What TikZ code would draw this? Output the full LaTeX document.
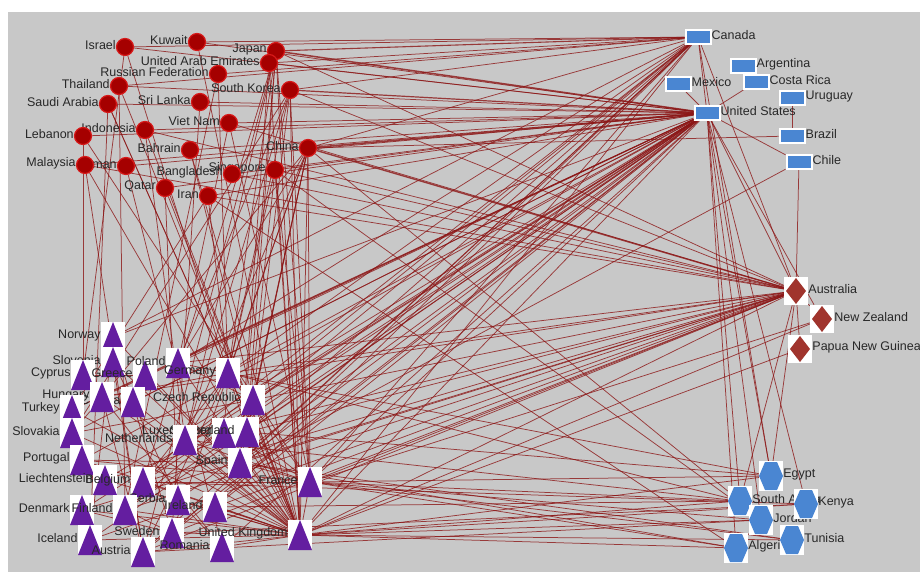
\documentclass[tikz,border=0pt]{standalone}
\usepackage{fontspec}
\setmainfont{Liberation Sans}
\usetikzlibrary{backgrounds}

\definecolor{panel}{RGB}{200,200,200}
\definecolor{tiered}{RGB}{140,22,22}
\definecolor{asiafill}{RGB}{165,0,0}
\definecolor{asiarim}{RGB}{215,25,25}
\definecolor{bluefill}{RGB}{74,134,210}
\definecolor{oceafill}{RGB}{160,52,45}
\definecolor{eurofill}{RGB}{100,30,160}
\definecolor{labelgray}{RGB}{40,40,40}

\tikzset{
  lbl/.style={font=\fontsize{12.5}{14}\selectfont, text=labelgray, inner sep=0pt, yshift=2pt},
  asia/.style={circle, fill=asiafill, draw=asiarim, line width=1.2pt,
    minimum size=17pt, inner sep=0pt, label distance=-4pt},
  amer/.style={rectangle, fill=bluefill, draw=white, line width=2pt,
    minimum width=25pt, minimum height=14pt, inner sep=0pt, label distance=4pt},
  ocea/.style={rectangle, fill=white, minimum width=24pt, minimum height=28pt,
    inner sep=0pt, label distance=4pt,
    path picture={\fill[oceafill] ([yshift=-1pt]path picture bounding box.north)
      -- ([xshift=-2pt]path picture bounding box.east)
      -- ([yshift=1pt]path picture bounding box.south)
      -- ([xshift=2pt]path picture bounding box.west) -- cycle;}},
  euro/.style={rectangle, fill=white, minimum width=24pt, minimum height=30pt,
    inner sep=0pt, label distance=1pt,
    path picture={\fill[eurofill] (path picture bounding box.south west)
      -- (path picture bounding box.south east)
      -- (path picture bounding box.north) -- cycle;}},
  afri/.style={rectangle, fill=white, minimum width=24pt, minimum height=30pt,
    inner sep=0pt, label distance=3pt,
    path picture={\fill[bluefill]
      ([xshift=-12pt]path picture bounding box.center)
      -- ([shift={(-6pt,14pt)}]path picture bounding box.center)
      -- ([shift={(6pt,14pt)}]path picture bounding box.center)
      -- ([xshift=12pt]path picture bounding box.center)
      -- ([shift={(6pt,-14pt)}]path picture bounding box.center)
      -- ([shift={(-6pt,-14pt)}]path picture bounding box.center) -- cycle;}},
  conn/.style={draw=tiered, draw opacity=.8, line width=.75pt}
}

\begin{document}
\begin{tikzpicture}[x=1pt, y=-1pt]
  \useasboundingbox (0,0) rectangle (920,572);
  % asia
  \path
    (125,47) node[asia, label={[lbl]left:Israel}] (isr){}
    (197,42) node[asia, label={[lbl]left:Kuwait}] (kuw){}
    (276,51) node[asia, label={[lbl]left:Japan}] (jpn){}
    (269,63) node[asia, label={[lbl]left:United Arab Emirates}] (uae){}
    (218,74) node[asia, label={[lbl]left:Russian Federation}] (rus){}
    (119,86) node[asia, label={[lbl]left:Thailand}] (tha){}
    (290,90) node[asia, label={[lbl]left:South Korea}] (kor){}
    (108,104) node[asia, label={[lbl]left:Saudi Arabia}] (sau){}
    (200,102) node[asia, label={[lbl]left:Sri Lanka}] (lka){}
    (229,123) node[asia, label={[lbl]left:Viet Nam}] (vnm){}
    (145,130) node[asia, label={[lbl]left:Indonesia}] (idn){}
    (83,136) node[asia, label={[lbl]left:Lebanon}] (lbn){}
    (190,150) node[asia, label={[lbl]left:Bahrain}] (bhr){}
    (308,148) node[asia, label={[lbl]left:China}] (chn){}
    (126,166) node[asia, label={[lbl]left:Oman}] (omn){}
    (85,165) node[asia, label={[lbl]left:Malaysia}] (mys){}
    (275,170) node[asia, label={[lbl]left:Singapore}] (sgp){}
    (232,174) node[asia, label={[lbl]left:Bangladesh}] (bgd){}
    (165,188) node[asia, label={[lbl]left:Qatar}] (qat){}
    (208,196) node[asia, label={[lbl]left:Iran}] (irn){};
  % americas
  \path
    (698,37) node[amer, label={[lbl]right:Canada}] (can){}
    (743,66) node[amer, label={[lbl]right:Argentina}] (arg){}
    (678,84) node[amer, label={[lbl]right:Mexico}] (mex){}
    (756,82) node[amer, label={[lbl]right:Costa Rica}] (cri){}
    (707,113) node[amer, label={[lbl]right:United States}] (usa){}
    (792,98) node[amer, label={[lbl]right:Uruguay}] (ury){}
    (792,136) node[amer, label={[lbl]right:Brazil}] (bra){}
    (799,162) node[amer, label={[lbl]right:Chile}] (chl){};
  % oceania
  \path
    (796,291) node[ocea, label={[lbl]right:Australia}] (aus){}
    (822,319) node[ocea, label={[lbl]right:New Zealand}] (nzl){}
    (800,349) node[ocea, label={[lbl]right:Papua New Guinea}] (png){};
  % africa and middle east
  \path
    (740,501) node[afri, label={[lbl]right:South Africa}] (zaf){}
    (761,520) node[afri, label={[lbl]right:Jordan}] (jor){}
    (736,548) node[afri, label={[lbl]right:Algeria}] (dza){}
    (771,476) node[afri, label={[lbl]right:Egypt}] (egy){}
    (806,504) node[afri, label={[lbl]right:Kenya}] (ken){}
    (792,540) node[afri, label={[lbl]right:Tunisia}] (tun){};
  % europe
  \path
    (113,337) node[euro, label={[lbl]left:Norway}] (nor){}
    (113,362) node[euro, label={[lbl]left:Slovenia}] (svn){}
    (83,375) node[euro, label={[lbl]left:Cyprus}] (cyp){}
    (145,375) node[euro, label={[lbl]left:Greece}] (grc){}
    (178,363) node[euro, label={[lbl]left:Poland}] (pol){}
    (228,373) node[euro, label={[lbl]left:Germany}] (deu){}
    (133,402) node[euro, label={[lbl]left:Croatia}] (hrv){}
    (102,397) node[euro, label={[lbl]left:Hungary}] (hun){}
    (253,400) node[euro, label={[lbl]left:Czech Republic}] (cze){}
    (72,410) node[euro, label={[lbl]left:Turkey}] (tur){}
    (72,433) node[euro, label={[lbl]left:Slovakia}] (svk){}
    (224,433) node[euro, label={[lbl]left:Luxembourg}] (lux){}
    (247,432) node[euro, label={[lbl]left:Switzerland}] (che){}
    (185,440) node[euro, label={[lbl]left:Netherlands}] (nld){}
    (82,460) node[euro, label={[lbl]left:Portugal}] (prt){}
    (240,463) node[euro, label={[lbl]left:Spain}] (esp){}
    (310,482) node[euro, label={[lbl]left:France}] (fra){}
    (105,480) node[euro, label={[lbl]left:Liechtenstein}] (lie){}
    (143,482) node[euro, label={[lbl]left:Belgium}] (bel){}
    (178,500) node[euro, label={[lbl]left:Serbia}] (srb){}
    (215,507) node[euro, label={[lbl]left:Ireland}] (irl){}
    (82,510) node[euro, label={[lbl]left:Denmark}] (dnk){}
    (125,510) node[euro, label={[lbl]left:Finland}] (fin){}
    (172,533) node[euro, label={[lbl]left:Sweden}] (swe){}
    (90,540) node[euro, label={[lbl]left:Iceland}] (isl){}
    (143,552) node[euro, label={[lbl]left:Austria}] (aut){}
    (222,547) node[euro, label={[lbl]left:Romania}] (rou){}
    (300,535) node[euro, label={[lbl]left:United Kingdom}] (gbr){};

  \begin{scope}[on background layer]
    \fill[panel] (8,12) rectangle (920,572);
    \begin{scope}[conn]
    % north america and asia
    \draw (can) to (isr); \draw (can) to (kuw); \draw (can) to (uae); \draw (can) to (kor);
    \draw (can) to (chn); \draw (can) to (tha); \draw (can) to (rus); \draw[line width=1.1pt] (can) to (jpn);
    \draw[line width=1.5pt] (usa) to (jpn); \draw[line width=1.2pt] (usa) to (kor); \draw[line width=1.6pt] (usa) to (chn);
    \draw (usa) to (isr); \draw (usa) to (kuw); \draw (usa) to (uae); \draw (usa) to (tha);
    \draw (usa) to (sau); \draw (usa) to (lka); \draw (usa) to (vnm); \draw (usa) to (idn);
    \draw (usa) to (lbn); \draw (usa) to (bhr); \draw (usa) to (mys); \draw (usa) to (sgp);
    \draw (usa) to (bgd); \draw (usa) to (irn); \draw (usa) to (qat); \draw (usa) to (omn);
    \draw (bra) to (chn);
    % oceania and asia
    \draw[line width=1.4pt] (aus) to (chn); \draw (aus) to (jpn); \draw (aus) to (kor); \draw (aus) to (sgp);
    \draw (aus) to (vnm); \draw (aus) to (irn); \draw (aus) to (mys); \draw (aus) to (idn);
    \draw (aus) to (bgd);
    % north america and europe
    \draw (usa) to (gbr); \draw (usa) to (fra); \draw (usa) to (deu); \draw (usa) to (nld);
    \draw (usa) to (che); \draw (usa) to (cze); \draw (usa) to (bel); \draw (usa) to (irl);
    \draw (usa) to (swe); \draw (usa) to (aut); \draw (usa) to (rou); \draw (usa) to (pol);
    \draw (usa) to (nor); \draw (usa) to (esp); \draw (usa) to (fin); \draw (usa) to (dnk);
    \draw (usa) to (lux); \draw (usa) to (hun); \draw (usa) to (grc); \draw (usa) to (tur);
    \draw (usa) to (prt); \draw (usa) to (isl); \draw (usa) to (srb); \draw (usa) to (svk);
    \draw (usa) to (hrv); \draw (usa) to (lie);
    \draw (can) to (gbr); \draw (can) to (fra); \draw (can) to (deu); \draw (can) to (nld);
    \draw (can) to (che); \draw (can) to (irl); \draw (can) to (bel); \draw (can) to (swe);
    \draw (can) to (esp); \draw (can) to (pol); \draw (can) to (nor); \draw (can) to (fin);
    \draw (can) to (aut);
    % oceania and europe
    \draw (aus) to (gbr); \draw (aus) to (fra); \draw (aus) to (deu); \draw (aus) to (nld);
    \draw (aus) to (che); \draw (aus) to (irl); \draw (aus) to (swe); \draw (aus) to (esp);
    \draw (aus) to (cze); \draw (aus) to (bel); \draw (aus) to (aut); \draw (aus) to (pol);
    \draw (aus) to (fin); \draw (aus) to (dnk); \draw (aus) to (hun); \draw (aus) to (isl);
    \draw (nzl) to (gbr); \draw (nzl) to (fra); \draw (png) to (gbr);
    % asia and europe
    \draw (gbr) to (jpn); \draw (gbr) to (chn); \draw (gbr) to (kor); \draw (gbr) to (sgp);
    \draw (gbr) to (sau); \draw (gbr) to (mys); \draw (gbr) to (uae); \draw (gbr) to (kuw);
    \draw (gbr) to (qat); \draw (gbr) to (idn); \draw (gbr) to (tha); \draw (gbr) to (bhr);
    \draw (fra) to (chn); \draw (fra) to (jpn); \draw (fra) to (kor); \draw (fra) to (sgp);
    \draw (fra) to (vnm); \draw (fra) to (lbn);
    \draw (deu) to (jpn); \draw (deu) to (chn); \draw (deu) to (kor); \draw (deu) to (sgp);
    \draw (deu) to (isr); \draw (deu) to (rus); \draw (deu) to (sau); \draw (deu) to (irn);
    \draw (nld) to (jpn); \draw (nld) to (chn); \draw (nld) to (idn); \draw (nld) to (kor);
    \draw (che) to (jpn); \draw (che) to (chn); \draw (che) to (sgp);
    \draw (esp) to (jpn); \draw (esp) to (chn); \draw (esp) to (uae);
    \draw (cze) to (kor); \draw (cze) to (chn); \draw (cze) to (bhr);
    \draw (pol) to (chn); \draw (pol) to (vnm); \draw (pol) to (kor);
    \draw (swe) to (chn); \draw (swe) to (lka); \draw (aut) to (mys); \draw (aut) to (jpn);
    \draw (svk) to (kor); \draw (hun) to (chn); \draw (fin) to (tha); \draw (fin) to (rus);
    \draw (cyp) to (lbn); \draw (cyp) to (isr); \draw (tur) to (irn); \draw (rou) to (omn);
    \draw (srb) to (qat); \draw (bel) to (jpn); \draw (isl) to (sau);
    % africa
    \draw (gbr) to (egy); \draw (gbr) to (zaf); \draw (gbr) to (ken); \draw (gbr) to (jor);
    \draw (gbr) to (dza); \draw (gbr) to (tun);
    \draw (fra) to (dza); \draw (fra) to (tun); \draw (fra) to (egy); \draw (fra) to (zaf);
    \draw (fra) to (jor);
    \draw (deu) to (egy); \draw (deu) to (zaf); \draw (esp) to (dza); \draw (esp) to (tun);
    \draw (nld) to (zaf); \draw (che) to (egy); \draw (bel) to (ken); \draw (swe) to (ken);
    \draw (aut) to (jor); \draw (irl) to (zaf);
    \draw (usa) to (egy); \draw (usa) to (zaf); \draw (usa) to (ken); \draw (usa) to (jor);
    \draw (usa) to (dza); \draw (can) to (egy); \draw (aus) to (zaf); \draw (aus) to (egy);
    \draw (chn) to (zaf); \draw (sgp) to (jor); \draw (irn) to (dza);
    % americas and oceania
    \draw (can) to (usa); \draw (mex) to (usa); \draw (cri) to (usa); \draw (usa) to (chl);
    \draw (bra) to (ury); \draw (aus) to (nzl); \draw (aus) to (png); \draw (can) to (aus);
    \draw (usa) to (aus); \draw (usa) to (nzl); \draw (chl) to (aus); \draw (chl) to (esp);
    % europe
    \draw (deu) to (fra); \draw (deu) to (nld); \draw (deu) to (pol); \draw (deu) to (cze);
    \draw (deu) to (che); \draw (deu) to (aut); \draw (deu) to (hun); \draw (deu) to (lux);
    \draw (deu) to (bel);
    \draw (gbr) to (fra); \draw (gbr) to (deu); \draw (gbr) to (esp); \draw (gbr) to (nld);
    \draw (gbr) to (irl); \draw (gbr) to (bel); \draw (gbr) to (swe); \draw (gbr) to (rou);
    \draw (gbr) to (aut); \draw (gbr) to (srb); \draw (gbr) to (lie); \draw (gbr) to (dnk);
    \draw (gbr) to (isl); \draw (gbr) to (fin); \draw (gbr) to (prt); \draw (gbr) to (svk);
    \draw (gbr) to (tur); \draw (gbr) to (hun); \draw (gbr) to (cze); \draw (gbr) to (lux);
    \draw (gbr) to (che); \draw (gbr) to (pol); \draw (gbr) to (grc); \draw (gbr) to (cyp);
    \draw (gbr) to (nor); \draw (gbr) to (svn); \draw (gbr) to (hrv);
    \draw (fra) to (esp); \draw (fra) to (bel); \draw (fra) to (che); \draw (fra) to (lux);
    \draw (fra) to (nld); \draw (fra) to (prt);
    \draw (nld) to (bel); \draw (esp) to (prt); \draw (swe) to (fin); \draw (swe) to (nor);
    \draw (swe) to (dnk); \draw (nor) to (isl); \draw (dnk) to (isl); \draw (aut) to (hun);
    \draw (aut) to (svn); \draw (hrv) to (svn); \draw (hrv) to (srb); \draw (rou) to (hun);
    \draw (srb) to (rou); \draw (grc) to (cyp); \draw (grc) to (tur); \draw (cze) to (svk);
    \draw (cze) to (pol); \draw (svk) to (hun); \draw (che) to (lie);
    \end{scope}
  \end{scope}
\end{tikzpicture}
\end{document}
